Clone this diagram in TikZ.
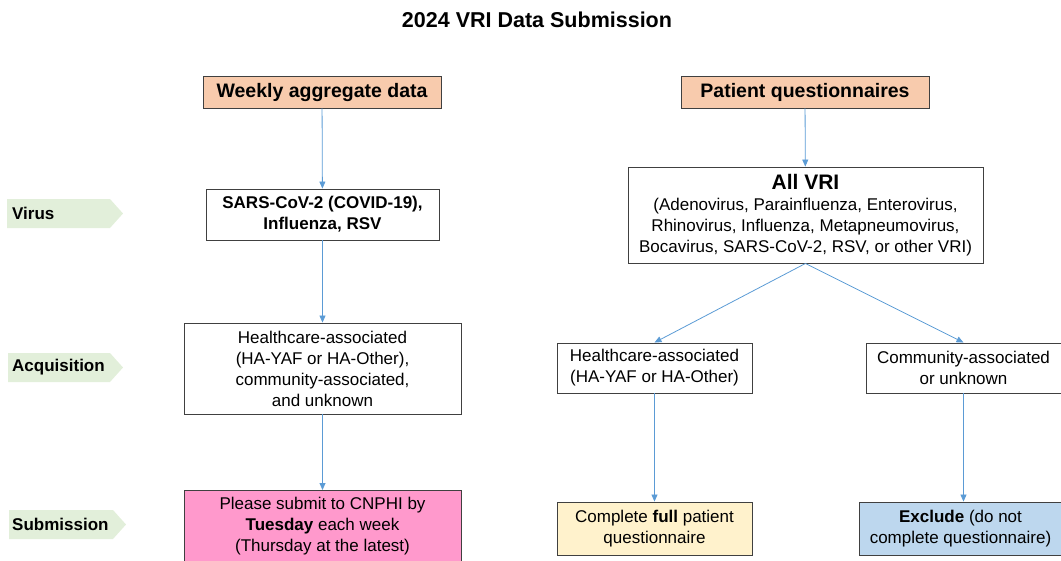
\documentclass[tikz,border=0pt]{standalone}
\usepackage{fontspec}
\setmainfont{Liberation Sans}
\usetikzlibrary{arrows.meta}
\definecolor{peach}{HTML}{F8CBAD}
\definecolor{lblgreen}{HTML}{E2EFDA}
\definecolor{pinkfill}{HTML}{FF99CC}
\definecolor{yellowfill}{HTML}{FFF2CC}
\definecolor{bluefill}{HTML}{BDD7EE}
\definecolor{arrowblue}{HTML}{5B9BD5}
\definecolor{boxline}{HTML}{404040}
\tikzset{
  box/.style={draw=boxline, line width=0.9pt, inner sep=0pt, align=center, font=\fontsize{17}{21}\selectfont},
  conn/.style={draw=arrowblue, line width=0.8pt, -{Triangle[length=7pt,width=6pt]}},
  lbltext/.style={anchor=west, font=\bfseries\fontsize{17}{20}\selectfont, inner sep=0pt},
  lblshape/.style={fill=lblgreen}
}
\begin{document}
\begin{tikzpicture}[x=1pt,y=-1pt]
\useasboundingbox (0,0) rectangle (1061,560);
\node[font=\bfseries\fontsize{21.5}{25}\selectfont] (title) at (537,20) {2024 VRI Data Submission};
% left column
\node[box, fill=peach, minimum width=238pt, minimum height=32pt, font=\bfseries\fontsize{19.5}{22}\selectfont] (wad) at (322,92) {Weekly aggregate data};
\node[box, minimum width=233pt, minimum height=51pt, font=\bfseries\fontsize{17}{21}\selectfont] (sars) at (322.5,214.5) {SARS-CoV-2 (COVID-19),\\Influenza, RSV};
\node[box, minimum width=277pt, minimum height=91pt] (acq) at (322.5,368.5) {Healthcare-associated\\(HA-YAF or HA-Other),\\community-associated,\\and unknown};
\node[box, fill=pinkfill, minimum width=277pt, minimum height=72pt, anchor=north] (sub) at (322.5,490) {Please submit to CNPHI by\\\textbf{Tuesday} each week\\(Thursday at the latest)};
% right column
\node[box, fill=peach, minimum width=248pt, minimum height=32pt, font=\bfseries\fontsize{19.5}{22}\selectfont] (pq) at (805,92) {Patient questionnaires};
\node[box, minimum width=355pt, minimum height=96pt] (all) at (805.5,215) {{\bfseries\fontsize{21}{24}\selectfont All VRI}\\(Adenovirus, Parainfluenza, Enterovirus,\\Rhinovirus, Influenza, Metapneumovirus,\\Bocavirus, SARS-CoV-2, RSV, or other VRI)};
\node[box, minimum width=195pt, minimum height=50pt] (ha) at (654.5,368) {Healthcare-associated\\(HA-YAF or HA-Other)};
\node[box, minimum width=195pt, minimum height=50pt] (ca) at (963.5,368) {Community-associated\\or unknown};
\node[box, fill=yellowfill, minimum width=195pt, minimum height=53pt] (full) at (654.5,528.5) {Complete \textbf{full} patient\\questionnaire};
\node[box, fill=bluefill, minimum width=202pt, minimum height=53pt] (ex) at (960.5,528.5) {\textbf{Exclude} (do not\\complete questionnaire)};
% side labels
\fill[lblshape] (7,199) -- (110,199) -- (123,213.5) -- (110,228) -- (7,228) -- cycle;
\node[lbltext] (lv) at (12,213.5) {Virus};
\fill[lblshape] (8,353) -- (110,353) -- (123,367.5) -- (110,382) -- (8,382) -- cycle;
\node[lbltext] (la) at (12,367.5) {Acquisition};
\fill[lblshape] (9,510) -- (113,510) -- (126,524.5) -- (113,539) -- (9,539) -- cycle;
\node[lbltext] (ls) at (12,524.5) {Submission};
% connectors
\draw[conn] (wad) -- (sars);
\draw[conn] (sars) -- (acq);
\draw[conn] (acq) -- (sub);
\draw[conn] (pq) -- (all);
\draw[conn] (all.south) -- (ha.north);
\draw[conn] (all.south) -- (ca.north);
\draw[conn] (ha) -- (full);
\draw[conn] (ca.south) -- (ca.south |- ex.north);
\end{tikzpicture}
\end{document}
